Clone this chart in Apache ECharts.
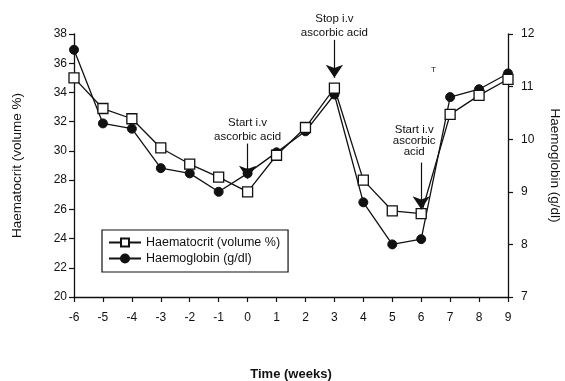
<!DOCTYPE html>
<html>
<head>
<meta charset="utf-8">
<script src="https://cdn.jsdelivr.net/npm/echarts@6/dist/echarts.min.js"></script>
<style>
  html, body { margin: 0; padding: 0; background: #fff; }
  #chart { width: 565px; height: 381px; }
</style>
</head>
<body>
<div id="chart"></div>
<script>
// Weekly measurements around i.v. ascorbic acid treatment
const weeks = [-6, -5, -4, -3, -2, -1, 0, 1, 2, 3, 4, 5, 6, 7, 8, 9];
const haematocrit = [35.0, 32.9, 32.2, 30.2, 29.1, 28.2, 27.2, 29.7, 31.6, 34.3, 28.0, 25.9, 25.7, 32.5, 33.8, 34.9];
const haemoglobin = [11.7, 10.3, 10.2, 9.45, 9.35, 9.0, 9.35, 9.75, 10.15, 10.85, 8.8, 8.0, 8.1, 10.8, 10.95, 11.25];

// Treatment events: week, arrow top / tip (haematocrit units), caption
const events = [
  { week: 0, from: 30.5, to: 28.1, text: 'Start i.v\nascorbic acid', dx: 0, dy: 0, lh: 14 },
  { week: 3, from: 37.6, to: 35.0, text: 'Stop i.v\nascorbic acid', dx: 0, dy: 0, lh: 14 },
  { week: 6, from: 29.2, to: 26.0, text: 'Start i.v\nascorbic\nacid', dx: -7, dy: -5, lh: 11 }
];

const FONT = 'Liberation Sans, Arial, sans-serif';
const INK = '#111';

const chart = echarts.init(document.getElementById('chart'), null, { renderer: 'canvas' });

const axisCommon = {
  axisLine: { show: true, onZero: false, lineStyle: { color: INK, width: 1.3 } },
  axisTick: { show: true, length: 5, lineStyle: { color: INK, width: 1.2 } },
  splitLine: { show: false },
  axisLabel: { color: INK, fontFamily: FONT, fontSize: 12 }
};

chart.setOption({
  animation: false,
  backgroundColor: '#fff',
  grid: { left: 74, right: 57, top: 34, bottom: 84, outerBoundsMode: 'none', containLabel: false },
  legend: {
    orient: 'vertical',
    left: 102,
    top: 230,
    padding: [6, 8, 7, 6],
    itemGap: 3,
    itemWidth: 32,
    itemHeight: 10,
    borderColor: INK,
    borderWidth: 1.2,
    textStyle: { color: INK, fontFamily: FONT, fontSize: 12.5 },
    data: ['Haematocrit (volume %)', 'Haemoglobin (g/dl)']
  },
  xAxis: {
    type: 'value',
    min: -6,
    max: 9,
    interval: 1,
    name: 'Time (weeks)',
    nameLocation: 'middle',
    nameGap: 71,
    nameTextStyle: { color: INK, fontFamily: FONT, fontSize: 13, fontWeight: 'bold' },
    ...axisCommon,
    axisLabel: { ...axisCommon.axisLabel, margin: 15 }
  },
  yAxis: [
    {
      type: 'value',
      min: 20,
      max: 38,
      interval: 2,
      name: 'Haematocrit (volume %)',
      nameLocation: 'middle',
      nameGap: 50,
      nameRotate: 90,
      nameTextStyle: { color: INK, fontFamily: FONT, fontSize: 13.5 },
      ...axisCommon,
      axisLabel: { ...axisCommon.axisLabel, margin: 7 }
    },
    {
      type: 'value',
      min: 7,
      max: 12,
      interval: 1,
      position: 'right',
      name: 'Haemoglobin (g/dl)',
      nameLocation: 'middle',
      nameGap: 40,
      nameRotate: -90,
      nameTextStyle: { color: INK, fontFamily: FONT, fontSize: 13.5 },
      ...axisCommon,
      axisLabel: { ...axisCommon.axisLabel, margin: 13 }
    }
  ],
  series: [
    {
      name: 'Haemoglobin (g/dl)',
      type: 'line',
      yAxisIndex: 1,
      data: weeks.map((w, i) => [w, haemoglobin[i]]),
      symbol: 'circle',
      symbolSize: 9,
      lineStyle: { color: INK, width: 1.3 },
      itemStyle: { color: INK, borderColor: INK, borderWidth: 1 },
      z: 2
    },
    {
      name: 'Haematocrit (volume %)',
      type: 'line',
      yAxisIndex: 0,
      data: weeks.map((w, i) => [w, haematocrit[i]]),
      symbol: 'rect',
      symbolSize: 10,
      lineStyle: { color: INK, width: 1.3 },
      itemStyle: { color: '#fff', borderColor: INK, borderWidth: 1.3 },
      z: 3,
      markLine: {
        silent: true,
        symbol: ['none', 'arrow'],
        symbolSize: 13,
        itemStyle: { color: INK },
        lineStyle: { color: INK, width: 1.2, type: 'solid' },
        label: {
          show: true,
          position: 'start',
          distance: 0,
          color: INK,
          fontFamily: FONT,
          fontSize: 11.5,
          align: 'center'
        },
        data: events.map(e => [
          { coord: [e.week, e.from], label: { formatter: e.text, offset: [e.dx, e.dy], lineHeight: e.lh } },
          { coord: [e.week, e.to] }
        ])
      }
    }
  ],
  graphic: [
    {
      type: 'text',
      left: 431,
      top: 66,
      style: { text: 'T', fill: INK, font: '8px ' + FONT }
    }
  ]
});
</script>
</body>
</html>
